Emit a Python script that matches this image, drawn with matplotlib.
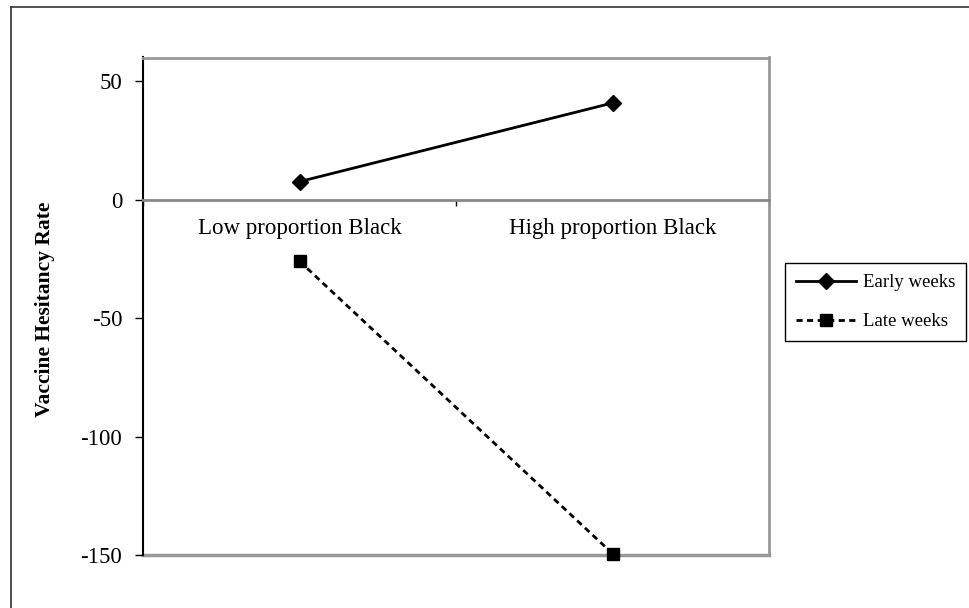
import matplotlib
matplotlib.use("Agg")
import matplotlib.pyplot as plt
from matplotlib.lines import Line2D

plt.rcParams["font.family"] = ["Liberation Serif", "DejaVu Serif"]
plt.rcParams["axes.unicode_minus"] = False

CATEGORIES = ["Low proportion Black", "High proportion Black"]
EARLY_WEEKS = [7.6, 40.8]
LATE_WEEKS = [-26.0, -149.4]
Y_TICKS = [50, 0, -50, -100, -150]
SERIES_LABELS = ["Early weeks", "Late weeks"]

GRAY = "#999999"


def main() -> None:
    fig = plt.figure(figsize=(9.7, 6.08), dpi=100)
    ax = fig.add_axes((143 / 970, 53 / 608, 626 / 970, 497.5 / 608))

    x = [0.5, 1.5]
    ax.plot(x, EARLY_WEEKS, color="black", linewidth=2, marker="D",
            markersize=8, label=SERIES_LABELS[0], clip_on=False, zorder=5)
    ax.plot(x, LATE_WEEKS, color="black", linewidth=2, linestyle=(0, (2.2, 1.6)),
            marker="s", markersize=9, label=SERIES_LABELS[1], clip_on=False, zorder=5)

    ax.set_xlim(0, 2)
    ax.set_ylim(-150, 60)

    # spines: black y axis, gray frame, category axis sits at y = 0
    ax.spines["left"].set_color("black")
    ax.spines["left"].set_linewidth(1.5)
    for side in ("top", "right"):
        ax.spines[side].set_color(GRAY)
        ax.spines[side].set_linewidth(2)
    ax.spines["bottom"].set_position(("data", 0))
    ax.spines["bottom"].set_color("#888888")
    ax.spines["bottom"].set_linewidth(2)
    ax.plot([0, 1], [0, 0], transform=ax.transAxes, color=GRAY,
            linewidth=2.5, clip_on=False, zorder=1)

    ax.set_yticks(Y_TICKS)
    ax.tick_params(axis="y", direction="out", length=6, width=1, pad=9,
                   labelsize=16.5, color="black")

    ax.set_xticks([0, 1, 2])
    ax.set_xticklabels([])
    ax.tick_params(axis="x", which="major", direction="out", length=4,
                   width=1, color="black")
    ax.set_xticks(x, minor=True)
    ax.set_xticklabels(CATEGORIES, minor=True)
    ax.tick_params(axis="x", which="minor", length=0, pad=13, labelsize=16.5)

    fig.text(45 / 970, 1 - 309 / 608, "Vaccine Hesitancy Rate", rotation=90,
             ha="center", va="center", fontsize=15.5, fontweight="bold")

    # outer chart frame: only its top and left edges fall inside the image
    top = 1 - 7 / 608
    left = 11 / 970
    fig.lines.append(Line2D([left, 1], [top, top], transform=fig.transFigure,
                            color="#333333", linewidth=1.2))
    fig.lines.append(Line2D([left, left], [0, top], transform=fig.transFigure,
                            color="#333333", linewidth=1.2))

    leg = fig.legend(loc="upper left", bbox_to_anchor=(785 / 970, 1 - 263 / 608),
                     borderaxespad=0, fancybox=False, edgecolor="black",
                     fontsize=13.5, handlelength=3.2, handletextpad=0.35,
                     labelspacing=1.15, borderpad=0.6, framealpha=1)
    leg.get_frame().set_linewidth(1)

    fig.savefig("out.png", dpi=100)


if __name__ == "__main__":
    main()
